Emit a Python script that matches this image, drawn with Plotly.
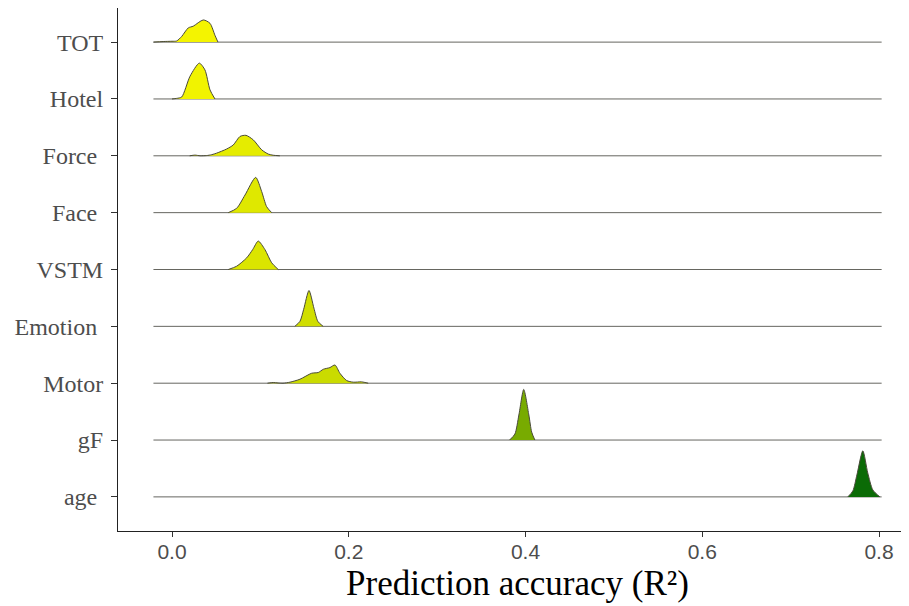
import plotly.graph_objects as go

# Categories (top to bottom)
categories = ["TOT", "Hotel", "Force", "Face", "VSTM", "Emotion", "Motor", "gF", "age"]
tick_text = ["TOT", "Hotel", "Force ", "Face ", "VSTM", "Emotion ", "Motor", "gF", "age "]

# Common x-range of the density baselines
x_min, x_max = -0.021, 0.803

# Density profiles: x positions and relative heights (row units)
tot_x = [-0.021, -0.01, 0.0, 0.0053, 0.011, 0.0184, 0.024, 0.0354, 0.043, 0.0486, 0.052]
tot_h = [0.0, 0.01, 0.015, 0.02, 0.10, 0.25, 0.28, 0.39, 0.33, 0.12, 0.0]

hotel_x = [0.0, 0.0053, 0.011, 0.0204, 0.0309, 0.0373, 0.043, 0.0486]
hotel_h = [0.0, 0.01, 0.035, 0.40, 0.63, 0.51, 0.16, 0.0]

force_x = [0.02, 0.026, 0.032, 0.039, 0.045, 0.0506, 0.0619, 0.0693, 0.0769, 0.0837, 0.092, 0.1015, 0.109, 0.1146, 0.122]
force_h = [0.0, 0.012, 0.0, 0.004, 0.02, 0.047, 0.12, 0.19, 0.34, 0.36, 0.28, 0.105, 0.03, 0.01, 0.0]

face_x = [0.0637, 0.0732, 0.0826, 0.0947, 0.1015, 0.1071, 0.1128]
face_h = [0.0, 0.077, 0.31, 0.62, 0.37, 0.105, 0.0]

vstm_x = [0.0637, 0.0732, 0.0845, 0.0913, 0.0976, 0.1052, 0.1128, 0.1202]
vstm_h = [0.0, 0.058, 0.205, 0.35, 0.50, 0.35, 0.118, 0.0]

emotion_x = [0.139, 0.1448, 0.149, 0.155, 0.1606, 0.165, 0.171]
emotion_h = [0.0, 0.088, 0.30, 0.63, 0.32, 0.088, 0.0]

motor_x = [0.108, 0.1146, 0.12, 0.1256, 0.1335, 0.1448, 0.158, 0.1655, 0.1712, 0.1787, 0.1844, 0.19, 0.1976, 0.2051, 0.2146, 0.222]
motor_h = [0.0, 0.012, 0.004, 0.0, 0.018, 0.07, 0.175, 0.188, 0.245, 0.275, 0.32, 0.175, 0.047, 0.018, 0.023, 0.0]

gf_x = [0.382, 0.388, 0.3925, 0.398, 0.4038, 0.407, 0.4106]
gf_h = [0.0, 0.105, 0.44, 0.89, 0.44, 0.14, 0.0]

age_x = [0.7647, 0.7704, 0.775, 0.7817, 0.7873, 0.793, 0.801]
age_h = [0.0, 0.105, 0.386, 0.81, 0.42, 0.123, 0.0]

profiles_x = [tot_x, hotel_x, force_x, face_x, vstm_x, emotion_x, motor_x, gf_x, age_x]
profiles_h = [tot_h, hotel_h, force_h, face_h, vstm_h, emotion_h, motor_h, gf_h, age_h]

fill_colors = ["#f4f400", "#f1f300", "#e5ec00", "#dfe800", "#dbe500",
               "#d0de00", "#cadb00", "#78ab00", "#0b6b06"]

x_ticks = [0.0, 0.2, 0.4, 0.6, 0.8]
x_tick_text = ["0.0", "0.2", "0.4", "0.6", "0.8"]

line_col = "#4a4a3a"

fig = go.Figure()
n = len(categories)
for i, cat in enumerate(categories):
    base = n - i
    xs = profiles_x[i]
    hs = profiles_h[i]
    # flat baseline over the full common range
    fig.add_trace(go.Scatter(x=[x_min, x_max], y=[base, base], mode="lines",
                             line=dict(color="#666660", width=1),
                             showlegend=False, hoverinfo="skip"))
    # invisible baseline under the density support, for filling
    fig.add_trace(go.Scatter(x=xs, y=[base] * len(xs), mode="lines",
                             line=dict(width=0, color="rgba(0,0,0,0)"),
                             showlegend=False, hoverinfo="skip"))
    fig.add_trace(go.Scatter(x=xs, y=[base + h for h in hs], mode="lines", fill="tonexty",
                             fillcolor=fill_colors[i],
                             line=dict(color=line_col, width=1, shape="spline", smoothing=0.7),
                             showlegend=False, name=cat))

# the page body adds an 8px offset, so margins are shifted to compensate
fig.update_layout(
    width=909, height=606,
    margin=dict(l=110, r=0, t=0, b=83),
    plot_bgcolor="white", paper_bgcolor="white",
    xaxis=dict(range=[-0.0611, 0.843], tickvals=x_ticks, ticktext=x_tick_text,
               showgrid=False, zeroline=False, showline=True, linecolor="#222", linewidth=1,
               ticks="outside", ticklen=5, tickcolor="#333", automargin=False,
               ticklabelstandoff=-3,
               tickfont=dict(family="Liberation Sans", size=21, color="#4d4d4d"),
               title=dict(text="Prediction accuracy (R²)",
                          font=dict(family="Liberation Serif", size=35, color="black"),
                          standoff=8)),
    yaxis=dict(range=[0.4, 9.6], tickvals=list(range(n, 0, -1)), ticktext=tick_text,
               showgrid=False, zeroline=False, showline=True, linecolor="#222", linewidth=1,
               ticks="outside", ticklen=6, tickcolor="#333", automargin=False,
               ticklabelstandoff=3,
               tickfont=dict(family="Liberation Serif", size=24, color="#4d4d4d")),
)

fig.write_html("out.html")
